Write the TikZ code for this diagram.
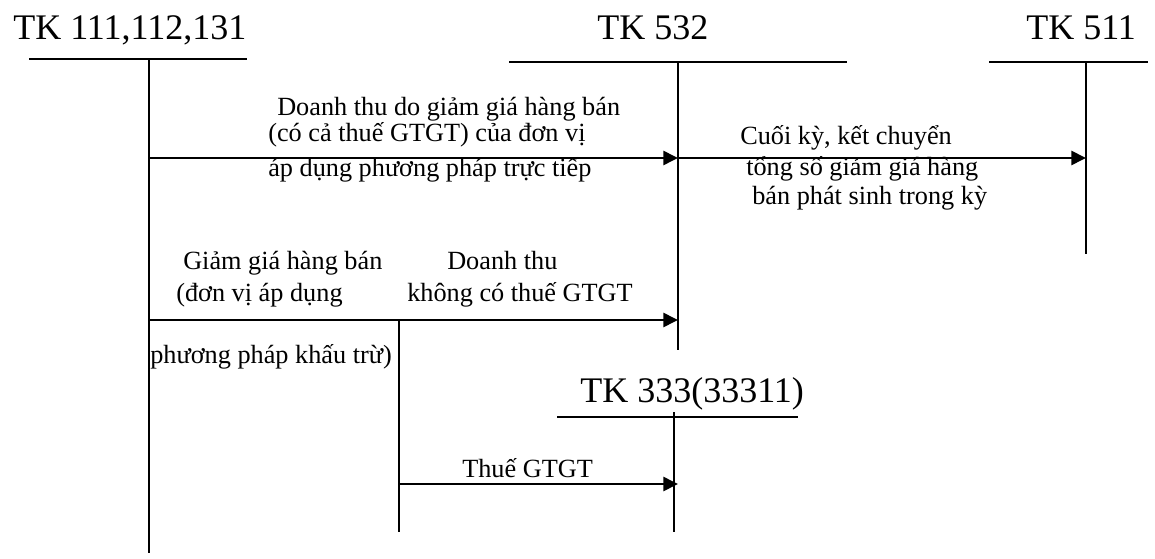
\documentclass[tikz,border=0pt]{standalone}
\usepackage{fontspec}
\setmainfont{Liberation Serif}
\usetikzlibrary{arrows.meta}
\begin{document}
\begin{tikzpicture}[x=0.75pt,y=-0.75pt,
  tline/.style={line width=1.5pt},
  flow/.style={line width=1.9pt,-{Triangle[length=11pt,width=10.5pt]}},
  acctitle/.style={anchor=base west,inner sep=0pt,font=\fontsize{27}{30}\selectfont},
  lbl/.style={anchor=base west,inner sep=0pt,font=\fontsize{19.7}{22}\selectfont}]
\useasboundingbox (0,0) rectangle (1155,559);

% --- T-account TK 111,112,131
\node[acctitle] (t111) at (13,40) {TK 111,112,131};
\coordinate (a111L) at (29,59);
\coordinate (a111R) at (247,59);
\coordinate (a111T) at (149,59);
\coordinate (a111B) at (149,553);
\draw[tline] (a111L) -- (a111R);
\draw[tline] (a111T) -- (a111B);

% --- T-account TK 532
\node[acctitle] (t532) at (597,40) {TK 532};
\coordinate (a532L) at (509,62);
\coordinate (a532R) at (847,62);
\coordinate (a532T) at (678,62);
\coordinate (a532B) at (678,350);
\draw[tline] (a532L) -- (a532R);
\draw[tline] (a532T) -- (a532B);

% --- T-account TK 511
\node[acctitle] (t511) at (1026,40) {TK 511};
\coordinate (a511L) at (989,62);
\coordinate (a511R) at (1148,62);
\coordinate (a511T) at (1086,62);
\coordinate (a511B) at (1086,254);
\draw[tline] (a511L) -- (a511R);
\draw[tline] (a511T) -- (a511B);

% --- T-account TK 333(33311)
\node[acctitle] (t333) at (580,402) {TK 333(33311)};
\coordinate (a333L) at (557,417);
\coordinate (a333R) at (798,417);
\coordinate (a333T) at (674,412);
\coordinate (a333B) at (674,532);
\draw[tline] (a333L) -- (a333R);
\draw[tline] (a333T) -- (a333B);

% --- branch line
\coordinate (brT) at (399,320);
\coordinate (brB) at (399,532);
\draw[tline] (brT) -- (brB);

% --- flows
\coordinate (f1s) at (149,158);
\coordinate (f1e) at (678,158);
\coordinate (f2e) at (1086,158);
\coordinate (f3s) at (149,320);
\coordinate (f3e) at (678,320);
\coordinate (f4s) at (399,484);
\coordinate (f4e) at (678,484);
\draw[flow] (f1s) -- (f1e);
\draw[flow] (f1e) -- (f2e);
\draw[flow] (f3s) -- (f3e);
\draw[flow] (f4s) -- (f4e);

% --- labels
\node[lbl] (l1a) at (277,116) {Doanh thu do giảm giá hàng bán};
\node[lbl] (l1b) at (268,142) {(có cả thuế GTGT) của đơn vị};
\node[lbl] (l1c) at (268,177) {áp dụng phương pháp trực tiếp};

\node[lbl] (l2a) at (740,145) {Cuối kỳ, kết chuyển};
\node[lbl] (l2b) at (746,176) {tổng số giảm giá hàng};
\node[lbl] (l2c) at (752,205) {bán phát sinh trong kỳ};

\node[lbl] (l3a) at (183,270) {Giảm giá hàng bán};
\node[lbl] (l3b) at (176,301) {(đơn vị áp dụng};
\node[lbl] (l3c) at (150,363) {phương pháp khấu trừ)};

\node[lbl] (l4a) at (447,270) {Doanh thu};
\node[lbl] (l4b) at (407,301) {không có thuế GTGT};

\node[lbl] (l5) at (462,477) {Thuế GTGT};
\end{tikzpicture}
\end{document}
